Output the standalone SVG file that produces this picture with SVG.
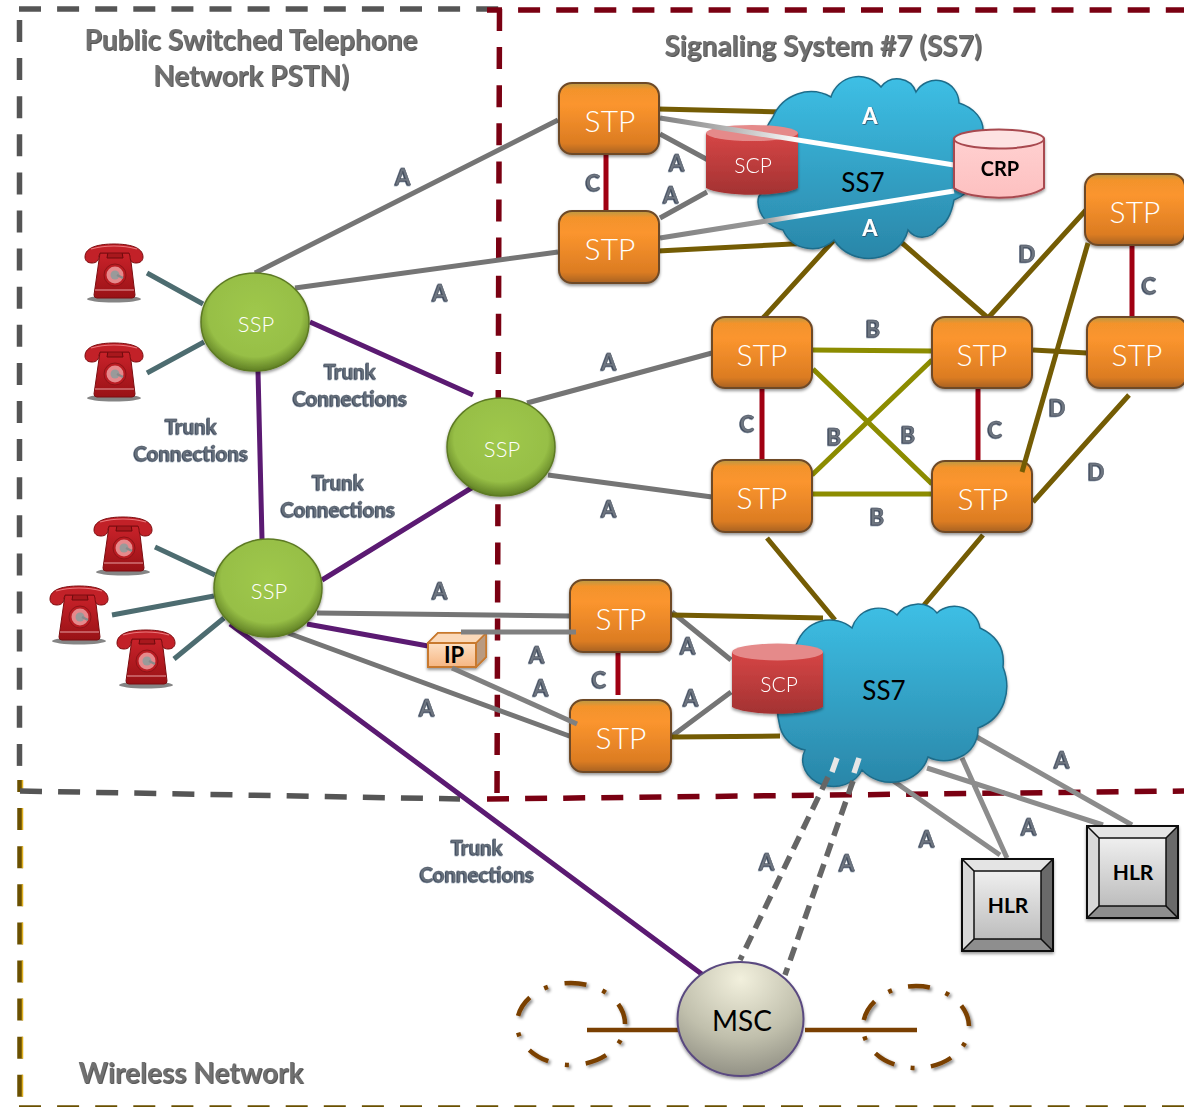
<svg xmlns="http://www.w3.org/2000/svg" width="1184" height="1107" viewBox="0 0 1184 1107">
<style>
text{font-family:Lato,"Open Sans","Liberation Sans",sans-serif;text-anchor:middle}
.lbl{font-size:22px;font-weight:700;fill:#6d7480;stroke:#49525f;stroke-width:.5px;filter:url(#ts)}
.wl{font-size:22px;font-weight:700;fill:#fff;filter:url(#ts2)}
.tr{font-size:20.5px;font-weight:700;fill:#66707c;stroke:#49525f;stroke-width:.3px;filter:url(#ts)}
.ttl{font-size:28px;font-weight:700;fill:#707070;filter:url(#ts3)}
.stp{font-size:30px;font-weight:300;fill:#fff}
.ssp{font-size:22px;font-weight:300;fill:#fff}
.scp{font-size:21px;font-weight:300;fill:#fff}
.blk{fill:#000}
.box{fill:url(#gStp);stroke:#6e4a28;stroke-width:2;filter:url(#ds)}
.ball{fill:url(#gSsp);stroke:#5d7a24;stroke-width:1.5;filter:url(#ds)}
.g{stroke:#757575;stroke-width:5;fill:none}
.hl{stroke:#8c8c8c;stroke-width:5;fill:none}
.ipl{stroke:#808080;stroke-width:5;fill:none}
.o{stroke:#745c04;stroke-width:5;fill:none}
.y{stroke:#8c8c00;stroke-width:5;fill:none}
.r{stroke:#a00012;stroke-width:5;fill:none}
.p{stroke:#5b1a72;stroke-width:5;fill:none}
.t{stroke:#4d6c70;stroke-width:5;fill:none}
.b{stroke:#7a4002;stroke-width:4.5;fill:none}
.dg{stroke:#555;stroke-width:5.5;stroke-dasharray:22 16.1;fill:none}
.dr{stroke:#7a0012;stroke-width:5.5;stroke-dasharray:22 16.1;fill:none}
.dy{stroke:#6a5000;stroke-width:5.5;stroke-dasharray:22 16.1;fill:none}
.dh{stroke:#e0b020;stroke-width:1.5;stroke-dasharray:22 16.1;fill:none}
.cl{fill:url(#gCl);stroke:#1f6c8a;stroke-width:1.5;filter:url(#ds)}
</style>
<defs>
<filter id="ts" x="-20%" y="-20%" width="140%" height="140%"><feDropShadow dx="-0.8" dy="0.6" stdDeviation="0.3" flood-color="#1f2f48"/></filter>
<filter id="ts2" x="-20%" y="-20%" width="140%" height="140%"><feDropShadow dx="0.6" dy="0.6" stdDeviation="0.5" flood-color="#334"/></filter>
<filter id="ts3" x="-10%" y="-20%" width="120%" height="140%"><feDropShadow dx="0.8" dy="0.8" stdDeviation="0.6" flood-color="#333"/></filter>
<filter id="ds" x="-15%" y="-15%" width="130%" height="135%"><feDropShadow dx="0" dy="2" stdDeviation="1.6" flood-color="#000" flood-opacity=".4"/></filter>
<filter id="ds2" x="-15%" y="-15%" width="130%" height="130%"><feDropShadow dx="2" dy="2" stdDeviation="1.5" flood-color="#000" flood-opacity=".45"/></filter>
<linearGradient id="gStp" x1="0" y1="0" x2="0" y2="1"><stop offset="0" stop-color="#b89a44"/><stop offset=".09" stop-color="#f3932c"/><stop offset=".3" stop-color="#fb952e"/><stop offset=".85" stop-color="#dc7c22"/><stop offset="1" stop-color="#a86224"/></linearGradient>
<radialGradient id="gSsp" cx=".5" cy=".42" r=".58"><stop offset="0" stop-color="#9fc84c"/><stop offset=".75" stop-color="#97bf46"/><stop offset="1" stop-color="#5f7f24"/></radialGradient>
<radialGradient id="gMsc" cx=".5" cy=".15" r=".95"><stop offset="0" stop-color="#f2f0dd"/><stop offset=".55" stop-color="#c0bfac"/><stop offset="1" stop-color="#85847a"/></radialGradient>
<linearGradient id="gCl" x1="0" y1="0" x2="0" y2="1"><stop offset="0" stop-color="#3dbfe5"/><stop offset="1" stop-color="#2a86a8"/></linearGradient>
<linearGradient id="gScp" x1="0" y1="0" x2="0" y2="1"><stop offset="0" stop-color="#d64646"/><stop offset="1" stop-color="#a33232"/></linearGradient>
<linearGradient id="gCrp" x1="0" y1="0" x2="0" y2="1"><stop offset="0" stop-color="#ffd0d0"/><stop offset="1" stop-color="#fdc0c0"/></linearGradient>
<linearGradient id="gIp" x1="0" y1="0" x2="0" y2="1"><stop offset="0" stop-color="#fde0c4"/><stop offset="1" stop-color="#f6b682"/></linearGradient>
<linearGradient id="gHlr" x1="0" y1="0" x2="0" y2="1"><stop offset="0" stop-color="#efefef"/><stop offset="1" stop-color="#bdbdbd"/></linearGradient>
<linearGradient id="gPh" x1="0" y1="0" x2="0" y2="1"><stop offset="0" stop-color="#c9222a"/><stop offset="1" stop-color="#991216"/></linearGradient>
<linearGradient id="w1" gradientUnits="userSpaceOnUse" x1="660" y1="118" x2="800" y2="140"><stop offset="0" stop-color="#808080"/><stop offset=".55" stop-color="#bcbcbc"/><stop offset="1" stop-color="#fff"/></linearGradient>
<linearGradient id="w2" gradientUnits="userSpaceOnUse" x1="660" y1="238" x2="800" y2="215"><stop offset="0" stop-color="#808080"/><stop offset=".75" stop-color="#9a9a9a"/><stop offset="1" stop-color="#fff"/></linearGradient>
<g id="phone">
<ellipse cx="29" cy="55" rx="27" ry="3.5" fill="#444" opacity=".65"/>
<path d="M15 9H45L50 51Q50 54 47 54H12Q9 54 9 51Z" fill="url(#gPh)" stroke="#7c0d10"/>
<path d="M22 14H38L37 8H23Z" fill="#a8181d" stroke="#6d0a0d"/>
<path d="M0 13C0 3 14 0 29 0C44 0 58 3 58 13C58 17 55 19 51 19C46 19 45 16 45 12L44 9H15L14 12C14 16 12 19 7 19C3 19 0 17 0 13Z" fill="#c22128" stroke="#7c0d10"/>
<path d="M6 5C20 1 38 1 52 5" fill="none" stroke="#e9787c" stroke-width="1.2"/>
<circle cx="30" cy="31" r="11" fill="#b91c22" stroke="#8e1317"/>
<circle cx="30" cy="31" r="8.500" fill="#e6898c"/>
<circle cx="30" cy="31" r="4.500" fill="#9a9a9a"/>
<path d="M32 31L38 34" stroke="#8a8a8a" stroke-width="2.4"/>
<path d="M10 46H49" stroke="#e8a0a2" stroke-width="1.2"/>
</g>
<g id="hlr">
<rect x="0" y="0" width="91" height="92" fill="url(#gHlr)"/>
<path d="M0 0H91L79 12H12Z" fill="#e4e4e4"/>
<path d="M0 0L12 12V80L0 92Z" fill="#d8d8d8"/>
<path d="M91 0L79 12V80L91 92Z" fill="#6a6a6a"/>
<path d="M0 92L12 80H79L91 92Z" fill="#8e8e8e"/>
<rect x="0" y="0" width="91" height="92" fill="none" stroke="#111" stroke-width="2"/>
<rect x="12" y="12" width="67" height="68" fill="url(#gHlr)" stroke="#111" stroke-width="1.5"/>
<path d="M0 0L12 12M91 0L79 12M0 92L12 80M91 92L79 80" stroke="#111" stroke-width="1.5"/>
</g>
</defs>

<rect width="1184" height="1107" fill="#fff"/>

<g id="borders">
<path class="dy" d="M20 780V1106" stroke-dashoffset="10"/>
<path class="dh" d="M22.500 780V1106" stroke-dashoffset="10"/>
<path class="dy" d="M19 1108H1184"/>
<path class="dg" d="M19 9H500"/>
<path class="dg" d="M19.500 20V780"/>
<path class="dg" d="M20 791L460 799"/>
<path class="dr" d="M487 10H1184" stroke-dashoffset="7"/>
<path class="dr" d="M499.500 9L497 800"/>
<path class="dr" d="M487 799L1184 791"/>
</g>

<g id="connectors">
<path class="t" d="M147 273L203 304M147 373L204 342M155 547L215 575M112 615L214 596M174 659L224 618"/>
<path class="g" d="M255 273L558 120M295 288L558 252M527 403L712 353M548 475L712 497M317 613L570 616M288 633L572 737"/>
<path class="g" d="M660 134L708 160M660 218L707 192M672 612L731 660M672 736L731 692"/>
<path class="hl" d="M975 736L1132 825M927 768L1103 825M962 758L1007 858M892 780L1000 855"/>
<path class="o" d="M658 109L783 112M658 251L812 243M834 240L763 318M901 242L988 318M988 318L1086 210M1033 350L1087 353M1033 502L1129 395M767 538L835 620M983 535L924 605M672 615L823 618M672 737L780 736"/>
<path class="y" d="M812 350L932 351M813 369L932 484M812 475L932 360M813 494L932 494"/>
<path class="r" d="M606 154V211M762 388V460M978 388V461M1132 245V317M618 652V695"/>
<path class="p" d="M310 322L473 395M258 371L262 539M322 580L473 487M307 624L428 646M230 624L703 975"/>
<path class="b" d="M587 1030H678M805 1030H917"/>
<g filter="url(#ds2)">
<ellipse class="b" cx="571" cy="1024" rx="54" ry="41" stroke-dasharray="22 17 4 17" stroke-dashoffset="22"/>
<ellipse class="b" cx="916" cy="1027" rx="53" ry="41" stroke-dasharray="22 16.500 4 16.500" stroke-dashoffset="22"/>
</g>
</g>

<g id="cloud-top"><path class="cl" d="M773 117A41 41 0 0 1 831 97A29 29 0 0 1 881 87A20 20 0 0 1 916 92A23 23 0 0 1 959 103C975 108 984 120 983 132C990 150 985 170 975 180Q968 195 954 200Q950 222 938 228A18 18 0 0 1 908 230A40 36 0 0 1 834 240A32 32 0 0 1 783 230A32 30 0 0 1 758 202Q758 195 762 193Q750 150 773 117Z"/>
<text class="blk" x="863" y="192" style="font-size:26px">SS7</text>
<text class="wl" x="870" y="124">A</text>
<text class="wl" x="870" y="236">A</text>
</g>
<g id="cloud-bottom"><path class="cl" d="M797 643A35 35 0 0 1 852 628A28 28 0 0 1 897 615A24 22 0 0 1 937 613A26 26 0 0 1 980 628Q1006 640 1003 667C1012 690 1005 718 978 728A30 30 0 0 1 960 757A30 24 0 0 1 928 757A38 34 0 0 1 862 770A28 24 0 0 1 805 750A32 32 0 0 1 780 727Q770 690 797 643Z"/>
<text class="blk" x="884" y="700" style="font-size:26px">SS7</text>
</g>

<g id="scp-top" filter="url(#ds)"><path d="M706 133V188C722 197 782 197 798 188V133Z" fill="url(#gScp)"/><ellipse cx="752" cy="133" rx="46" ry="8" fill="#e58a8a"/><text class="scp" x="753" y="173">SCP</text></g>
<g id="scp-bottom" filter="url(#ds)"><path d="M732 652V707C748 716 807 716 823 707V652Z" fill="url(#gScp)"/><ellipse cx="777.500" cy="652" rx="45.500" ry="8.500" fill="#e58a8a"/><text class="scp" x="779" y="692">SCP</text></g>

<g id="connectors-over">
<path d="M660 118L954 165" stroke="url(#w1)" stroke-width="5" fill="none"/>
<path d="M660 238L954 191" stroke="url(#w2)" stroke-width="5" fill="none"/>
</g>

<g id="crp" filter="url(#ds)"><path d="M954 139V188C971 201 1027 201 1044 188V139Z" fill="url(#gCrp)" stroke="#a84a50" stroke-width="2"/><ellipse cx="999" cy="139" rx="45" ry="9.500" fill="#fde2e2" stroke="#a84a50" stroke-width="2"/><text class="blk" x="1000" y="176" style="font-size:20px;font-weight:700">CRP</text></g>

<g id="stp-1"><rect class="box" x="559" y="83" width="100" height="71" rx="13"/><text class="stp" x="610" y="132">STP</text></g>
<g id="stp-2"><rect class="box" x="559" y="211" width="100" height="72" rx="13"/><text class="stp" x="610" y="260">STP</text></g>
<g id="stp-3"><rect class="box" x="712" y="317" width="100" height="71" rx="13"/><text class="stp" x="762" y="366">STP</text></g>
<g id="stp-4"><rect class="box" x="712" y="460" width="100" height="72" rx="13"/><text class="stp" x="762" y="509">STP</text></g>
<g id="stp-5"><rect class="box" x="932" y="317" width="100" height="71" rx="13"/><text class="stp" x="982" y="366">STP</text></g>
<g id="stp-6"><rect class="box" x="932" y="461" width="100" height="71" rx="13"/><text class="stp" x="983" y="510">STP</text></g>
<g id="stp-7"><rect class="box" x="1087" y="317" width="100" height="71" rx="13"/><text class="stp" x="1137" y="366">STP</text></g>
<g id="stp-8"><rect class="box" x="1085" y="174" width="100" height="71" rx="13"/><text class="stp" x="1135" y="223">STP</text></g>
<g id="stp-9"><rect class="box" x="570" y="580" width="101" height="72" rx="13"/><text class="stp" x="621" y="630">STP</text></g>
<g id="stp-10"><rect class="box" x="570" y="700" width="101" height="72" rx="13"/><text class="stp" x="621" y="749">STP</text></g>

<g id="ssp-1"><ellipse class="ball" cx="255" cy="322" rx="54" ry="49"/><text class="ssp" x="256" y="332">SSP</text></g>
<g id="ssp-2"><ellipse class="ball" cx="501" cy="447" rx="54" ry="49"/><text class="ssp" x="502" y="457">SSP</text></g>
<g id="ssp-3"><ellipse class="ball" cx="268" cy="588" rx="54" ry="49"/><text class="ssp" x="269" y="599">SSP</text></g>

<g id="ip">
<path d="M428 643L438 633H486V657L476 667H428Z" fill="#f6c596" stroke="#c8792e" stroke-width="2" filter="url(#ds)"/>
<path d="M476 643L486 633V657L476 667Z" fill="#b99a80" stroke="#c8792e" stroke-width="1.500"/>
<path d="M428 643L438 633H486L476 643Z" fill="#fbd9b9" stroke="#c8792e" stroke-width="1.500"/>
<rect x="428" y="643" width="48" height="24" fill="url(#gIp)" stroke="#c8792e" stroke-width="2"/>
<text class="blk" x="454" y="663" style="font-size:22px;font-weight:700">IP</text>
</g>

<g id="connectors-top">
<path class="o" d="M1022 472L1088 243"/>
<path class="ipl" d="M461 632H576"/>
<path class="ipl" d="M452 668L577 724"/>
<path d="M837 758L832 772M859 758L854 773" stroke="#e6e6e6" stroke-width="5.500"/>
<path d="M828 777L740 960" stroke="#666" stroke-width="5.500" stroke-dasharray="14 8"/>
<path d="M853 781L785 975" stroke="#666" stroke-width="5.500" stroke-dasharray="14 8"/>
</g>

<g id="hlr-1"><use href="#hlr" x="962" y="859" filter="url(#ds)"/><text class="blk" x="1008" y="913" style="font-size:21px;font-weight:700">HLR</text></g>
<g id="hlr-2"><use href="#hlr" x="1087" y="826" filter="url(#ds)"/><text class="blk" x="1133" y="880" style="font-size:21px;font-weight:700">HLR</text></g>

<g id="msc"><ellipse cx="740.500" cy="1019" rx="63" ry="57" fill="url(#gMsc)" stroke="#5a4a80" stroke-width="2" filter="url(#ds)"/><text class="blk" x="742" y="1031" style="font-size:28px">MSC</text></g>

<g id="phone-1"><use href="#phone" x="85" y="244"/></g>
<g id="phone-2"><use href="#phone" x="85" y="343"/></g>
<g id="phone-3"><use href="#phone" x="94" y="517"/></g>
<g id="phone-4"><use href="#phone" x="50" y="586"/></g>
<g id="phone-5"><use href="#phone" x="117" y="630"/></g>

<g id="titles">
<text class="ttl" x="251" y="50">Public Switched Telephone</text>
<text class="ttl" x="251" y="86">Network PSTN)</text>
<text class="ttl" x="823" y="56">Signaling System #7 (SS7)</text>
<text class="ttl" x="191" y="1083">Wireless Network</text>
</g>
<g id="trunk-labels">
<text class="tr" x="350" y="379">Trunk</text><text class="tr" x="350" y="406">Connections</text>
<text class="tr" x="191" y="434">Trunk</text><text class="tr" x="191" y="461">Connections</text>
<text class="tr" x="338" y="490">Trunk</text><text class="tr" x="338" y="517">Connections</text>
<text class="tr" x="477" y="855">Trunk</text><text class="tr" x="477" y="882">Connections</text>
</g>
<g id="link-labels">
<text class="lbl" x="403" y="185">A</text><text class="lbl" x="440" y="301">A</text><text class="lbl" x="609" y="370">A</text><text class="lbl" x="609" y="517">A</text><text class="lbl" x="440" y="599">A</text><text class="lbl" x="537" y="663">A</text><text class="lbl" x="541" y="696">A</text><text class="lbl" x="427" y="716">A</text><text class="lbl" x="688" y="654">A</text><text class="lbl" x="691" y="706">A</text><text class="lbl" x="677" y="171">A</text><text class="lbl" x="671" y="203">A</text><text class="lbl" x="1062" y="768">A</text><text class="lbl" x="1029" y="835">A</text><text class="lbl" x="927" y="847">A</text><text class="lbl" x="767" y="870">A</text><text class="lbl" x="847" y="871">A</text>
<text class="lbl" x="873" y="337">B</text><text class="lbl" x="834" y="445">B</text><text class="lbl" x="908" y="443">B</text><text class="lbl" x="877" y="525">B</text>
<text class="lbl" x="593" y="191">C</text><text class="lbl" x="747" y="432">C</text><text class="lbl" x="995" y="438">C</text><text class="lbl" x="1149" y="294">C</text><text class="lbl" x="599" y="688">C</text>
<text class="lbl" x="1027" y="262">D</text><text class="lbl" x="1057" y="416">D</text><text class="lbl" x="1096" y="480">D</text>
</g>
</svg>
